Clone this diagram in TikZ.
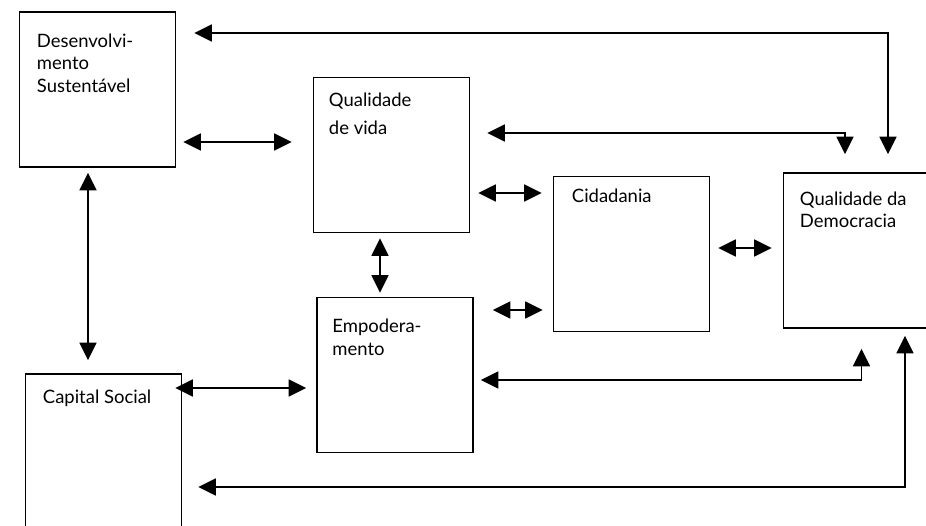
\documentclass[tikz,border=0pt]{standalone}
\usepackage{fontspec}
\setmainfont{Lato}
\usetikzlibrary{arrows.meta,calc}

\begin{document}
\begin{tikzpicture}[x=1cm,y=1cm,
    box/.style={draw,line width=1pt,minimum width=3.12cm,minimum height=3.1cm,inner sep=0pt},
    tag/.style={anchor=north west,align=left,inner sep=0pt,font=\fontsize{10.5}{13}\selectfont},
    link/.style={line width=1pt,{Triangle[length=3.5mm,width=3.4mm]}-{Triangle[length=3.5mm,width=3.4mm]}}]
  \useasboundingbox (0,0) rectangle (18.52,10.52);
  \node[box,label={[tag,xshift=.36cm,yshift=-.44cm]north west:Desenvolvi-\\mento\\Sustentável}] (dev) at (1.95,8.73) {};
  \node[box,label={[tag,xshift=.32cm,yshift=-.32cm]north west:Qualidade\\[3pt]de vida}] (vida) at (7.83,7.42) {};
  \node[box,label={[tag,xshift=.38cm,yshift=-.26cm]north west:Cidadania}] (cid) at (12.63,5.44) {};
  \node[box,label={[tag,xshift=.34cm,yshift=-.38cm]north west:Qualidade da\\Democracia}] (dem) at (17.23,5.51) {};
  \node[box,label={[tag,xshift=.32cm,yshift=-.44cm]north west:Empodera-\\mento}] (emp) at (7.9,3.02) {};
  \node[box,label={[tag,xshift=.36cm,yshift=-.32cm]north west:Capital Social}] (cap) at (2.07,1.49) {};
  % straight two-way links
  \foreach \a/\b/\y/\s/\e in {dev/vida/7.68/.14/.42,vida/cid/6.66/.16/.22,emp/cid/4.32/.38/.2,cid/dem/5.56/.16/.22,cap/emp/2.76/-.14/.2}{\draw[link,shorten <=\s cm,shorten >=\e cm] (\a.east |- 0,\y) -- (\b.west |- 0,\y);}
  \draw[link,shorten <=.1cm,shorten >=.08cm] (vida.south -| 7.6,0) -- (emp.north -| 7.6,0);
  \draw[link,shorten <=.1cm,shorten >=.26cm] (dev.south -| 1.76,0) -- (cap.north -| 1.76,0);
  % links round to the democracy box
  \draw[link,shorten <=.36cm,shorten >=.36cm] (dev.east |- 0,9.86) -| ([xshift=.53cm]dem.north);
  \draw[link,shorten <=.34cm,shorten >=.36cm] (vida.east |- 0,7.86) -| ([xshift=-.33cm]dem.north);
  \draw[link,shorten <=.14cm,shorten >=.4cm] (emp.east |- 0,2.92) -| (dem.south);
  \draw[link,shorten <=.32cm,shorten >=.14cm] (cap.east |- 0,.78) -| ([xshift=.87cm]dem.south);
\end{tikzpicture}
\end{document}
